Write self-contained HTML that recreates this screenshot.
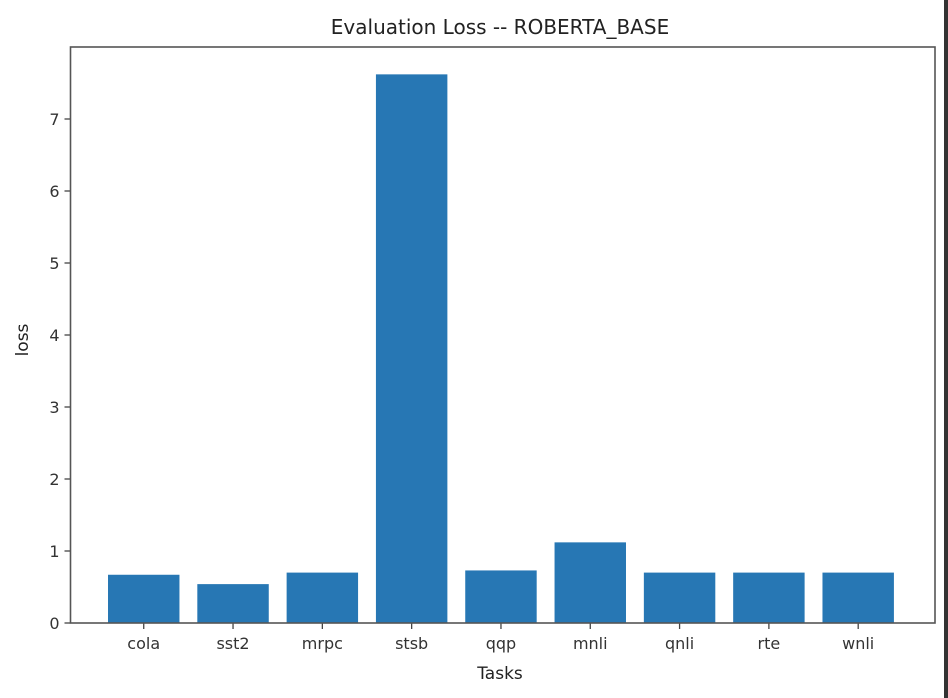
<!DOCTYPE html>
<html><head><meta charset="utf-8"><style>
body{margin:0;background:#fff;}
svg{display:block;font-family:"DejaVu Sans","Liberation Sans",sans-serif;}
</style></head><body>
<svg id="chart" width="948" height="698" viewBox="0 0 948 698">
<rect x="0" y="0" width="948" height="698" fill="#fff"/>
<rect x="944" y="0" width="4" height="698" fill="#333"/>
<g id="bars"></g>
<g id="axes"></g>
<text x="500" y="34" font-size="20" text-anchor="middle" fill="#222">Evaluation Loss -- ROBERTA_BASE</text>
<text x="500" y="679" font-size="17" text-anchor="middle" fill="#222">Tasks</text>
<text x="28" y="340" font-size="17" text-anchor="middle" fill="#222" transform="rotate(-90 28 340)">loss</text>
</svg>
<script>
const categories=["cola","sst2","mrpc","stsb","qqp","mnli","qnli","rte","wnli"];
const losses=[0.67,0.54,0.70,7.62,0.73,1.12,0.70,0.70,0.70];
const yTicks=[0,1,2,3,4,5,6,7];
const L=70.5,R=935,T=47,B=623;
const xmin=-0.82,xmax=categories.length-1+0.86;
const X=i=>L+(i-xmin)/(xmax-xmin)*(R-L);
const Y=v=>B-v*72;
const ns="http://www.w3.org/2000/svg";
const bars=document.getElementById('bars'),axes=document.getElementById('axes');
function mk(t,a,p){const e=document.createElementNS(ns,t);for(const k in a)e.setAttribute(k,a[k]);p.appendChild(e);return e;}
const bw=0.8*(R-L)/(xmax-xmin);
categories.forEach((c,i)=>{
 const r=mk('rect',{x:X(i)-bw/2,y:Y(losses[i]),width:bw,height:B-Y(losses[i]),fill:'#2777b4'},bars);
 
 
 mk('line',{x1:X(i),x2:X(i),y1:B,y2:B+6,stroke:'#444','stroke-width':1.3},axes);
 const t=mk('text',{x:X(i),y:B+26,'font-size':16,'text-anchor':'middle',fill:'#333'},axes);
 t.textContent=c;
 
 
});
yTicks.forEach(v=>{
 mk('line',{x1:L-6,x2:L,y1:Y(v),y2:Y(v),stroke:'#444','stroke-width':1.3},axes);
 const t=mk('text',{x:L-11,y:Y(v)+6,'font-size':16,'text-anchor':'end',fill:'#333'},axes);
 t.textContent=v;
 
 
});
const f=mk('rect',{x:L,y:T,width:R-L,height:B-T,fill:'none',stroke:'#555','stroke-width':1.6},axes);


</script>
</body></html>
